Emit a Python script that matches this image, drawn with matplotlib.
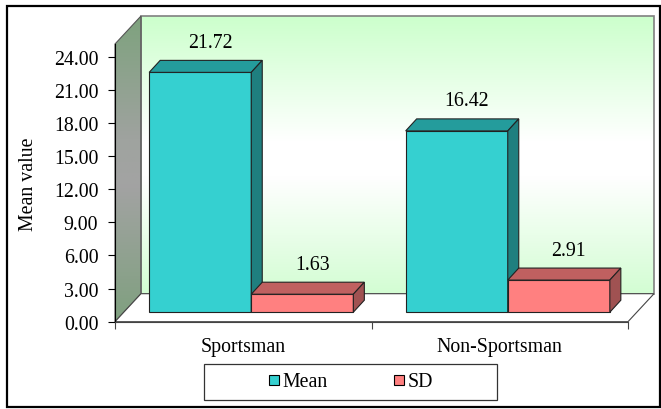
import numpy as np
import matplotlib.pyplot as plt
from matplotlib import transforms
from matplotlib.colors import LinearSegmentedColormap
from matplotlib.lines import Line2D
from matplotlib.patches import Polygon, Rectangle

groups = ["Sportsman", "Non-Sportsman"]
series = ["Mean", "SD"]
mean_vals = [21.72, 16.42]
sd_vals = [1.63, 2.91]
yticks = [0, 3, 6, 9, 12, 15, 18, 21, 24]

plt.rcParams["font.family"] = "Liberation Serif"
plt.rcParams["font.size"] = 14.3

W, H = 661, 410
fig = plt.figure(figsize=(W / 100, H / 100), dpi=100)

# background layer in pixel units for the walls / floor / frames
bg = fig.add_axes([0, 0, 1, 1], zorder=0)
bg.set_xlim(0, W)
bg.set_ylim(0, H)
bg.axis("off")

ax = fig.add_axes([115 / W, (H - 322.7) / H, 513 / W, (322.7 - 45) / H], zorder=1)
ax.patch.set_visible(False)
ymax = 25.15
ax.set_xlim(0, 2)
ax.set_ylim(0, ymax)

# 3d walls
wall = np.array([26, 28])
x0, y0 = ax.transData.transform((0, 0))
x1, y1 = ax.transData.transform((2, ymax))

back_cmap = LinearSegmentedColormap.from_list(
    "back", [(0, "#d3fdd3"), (0.42, "#ffffff"), (0.55, "#ffffff"), (1, "#ccffcc")])
side_cmap = LinearSegmentedColormap.from_list(
    "side", [(0, "#7fa07f"), (0.45, "#a3a3a3"), (0.6, "#9fa39f"), (1, "#7ea27e")])
grad = np.linspace(0, 1, 256).reshape(-1, 1)

bw = [x0 + wall[0], x1 + wall[0], y0 + wall[1], y1 + wall[1]]
bg.imshow(grad, cmap=back_cmap, origin="lower", extent=bw, aspect="auto")
bg.add_patch(Rectangle((bw[0], bw[2]), bw[1] - bw[0], bw[3] - bw[2],
                       fill=False, edgecolor="#808080", lw=1.2))

side_pts = [(x0, y0), (x0 + wall[0], y0 + wall[1]), (x0 + wall[0], y1 + wall[1]), (x0, y1)]
side_poly = Polygon(side_pts, fill=False, edgecolor="#555555", lw=0.8)
bg.add_patch(side_poly)
im = bg.imshow(grad, cmap=side_cmap, origin="lower",
               extent=[x0, x0 + wall[0], y0, y1 + wall[1]], aspect="auto")
im.set_clip_path(side_poly)

floor_pts = [(x0, y0), (x1, y0), (x1 + wall[0], y0 + wall[1]), (x0 + wall[0], y0 + wall[1])]
bg.add_patch(Polygon(floor_pts, facecolor="white", edgecolor="#444444", lw=0.8))

# bars sit a little behind the front plane
shift = transforms.offset_copy(ax.transData, fig=fig, x=8, y=9.5, units="dots")
depth = np.array([11, 12])
bar_w = 0.398
centers = np.arange(len(groups)) + 0.5

styles = {
    "Mean": ("#35d0d0", "#249c9c", "#1f7f7f"),
    "SD": ("#ff8080", "#c06060", "#a05252"),
}


def draw_box(rect, top_c, side_c):
    x, y = rect.get_x(), rect.get_y()
    w, h = rect.get_width(), rect.get_height()
    tl = shift.transform((x, y + h))
    tr = shift.transform((x + w, y + h))
    br = shift.transform((x + w, y))
    top = Polygon([tl, tr, tr + depth, tl + depth], facecolor=top_c,
                  edgecolor="#222222", lw=0.8, transform=transforms.IdentityTransform(),
                  clip_on=False, zorder=3)
    side = Polygon([br, tr, tr + depth, br + depth], facecolor=side_c,
                   edgecolor="#222222", lw=0.8, transform=transforms.IdentityTransform(),
                   clip_on=False, zorder=3)
    ax.add_patch(top)
    ax.add_patch(side)


for i in range(len(groups)):
    for j, (name, vals) in enumerate(zip(series, [mean_vals, sd_vals])):
        front_c, top_c, side_c = styles[name]
        left = centers[i] - bar_w + j * bar_w
        bar = ax.bar(left, vals[i], bar_w, align="edge", color=front_c,
                     edgecolor="#222222", lw=0.8, transform=shift, clip_on=False,
                     zorder=3)[0]
        draw_box(bar, top_c, side_c)
        ax.annotate(f"{vals[i]:.2f}", xy=(left + bar_w / 2, vals[i]), xycoords=shift,
                    xytext=(10, 30), textcoords="offset pixels",
                    ha="center", va="center", zorder=5)

# axes styling
ax.set_yticks(yticks)
ax.set_yticklabels([f"{t:.2f}" for t in yticks])
ax.tick_params(axis="y", direction="out", length=5, width=0.8, pad=7)
ax.set_xticks([0, 1, 2])
ax.set_xticklabels(["", "", ""])
ax.set_xticks(centers, minor=True)
ax.set_xticklabels(groups, minor=True)
ax.tick_params(axis="x", which="major", direction="out", length=5, width=0.8, color="#444444")
ax.tick_params(axis="x", which="minor", length=0, pad=11)
for s in ["top", "right"]:
    ax.spines[s].set_visible(False)
ax.spines["left"].set_linewidth(0.8)
ax.spines["bottom"].set_linewidth(0.8)
ax.spines["bottom"].set_color("#444444")
ax.set_ylabel("Mean value")
ax.yaxis.set_label_coords((38 - 115) / 513, 0.5)

# legend
handles = [Line2D([], [], ls="", marker="s", markersize=6.5, markerfacecolor=styles[n][0],
                  markeredgecolor="black", markeredgewidth=0.8) for n in series]
fig.legend(handles, series, loc="center", bbox_to_anchor=(351 / W, 1 - 383 / H), ncol=2,
           frameon=False, handlelength=0.5, handletextpad=0.2, columnspacing=3.3)
bg.add_patch(Rectangle((204, H - 401), 293, 36, fill=False, edgecolor="#333333", lw=0.9))

# outer frame
bg.add_patch(Rectangle((7, H - 408), 653, 401, fill=False, edgecolor="black", lw=1.6))

fig.savefig("out.png", dpi=100)
